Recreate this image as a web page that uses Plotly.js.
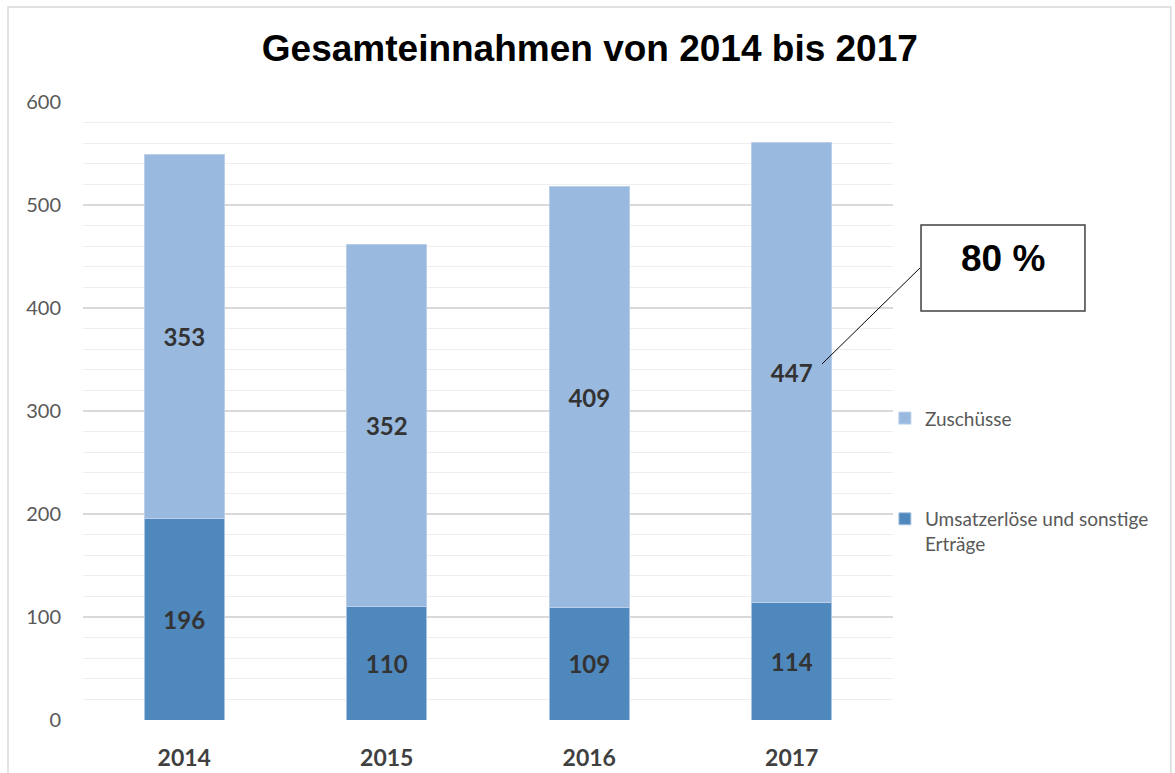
<!DOCTYPE html>
<html>
<head>
<meta charset="utf-8">
<script src="https://cdn.plot.ly/plotly-3.0.1.min.js"></script>
<style>
html,body{margin:0;padding:0;background:#fff;}
#chart{width:1175px;height:773px;}
</style>
</head>
<body>
<div id="chart"></div>
<script>
const years = ["2014", "2015", "2016", "2017"];
const umsatz = [196, 110, 109, 114];
const zuschuesse = [353, 352, 409, 447];
const seriesNames = ["Umsatzerlöse und sonstige<br>Erträge", "Zuschüsse"];
const titleText = "Gesamteinnahmen von 2014 bis 2017";
const calloutText = "80 %";

const labelFont = {family: "Lato, 'Open Sans', sans-serif", size: 24, color: "#333333", weight: "bold"};

const traces = [
  {
    type: "bar", x: years, y: umsatz, name: seriesNames[0], legendgroup: "a", legendrank: 2,
    marker: {color: "#4F88BC", line: {color: "#A9C4E4", width: 1}},
    text: umsatz.map(String), textposition: "inside", insidetextanchor: "middle",
    textangle: 0, constraintext: "none",
    textfont: labelFont, hoverinfo: "x+y+name"
  },
  {
    type: "bar", x: years, y: zuschuesse, name: seriesNames[1], legendgroup: "b", legendrank: 1,
    marker: {color: "#99B9DF", line: {color: "#B9CFEA", width: 1}},
    text: zuschuesse.map(String), textposition: "inside", insidetextanchor: "middle",
    textangle: 0, constraintext: "none",
    textfont: labelFont, hoverinfo: "x+y+name"
  }
];

const layout = {
  width: 1175, height: 773,
  margin: {l: 83, r: 282, t: 102, b: 53},
  paper_bgcolor: "#ffffff", plot_bgcolor: "#ffffff",
  barmode: "stack", bargap: 0.605,
  font: {family: "Lato, sans-serif", color: "#595959"},
  title: {
    text: "<b>" + titleText + "</b>",
    font: {family: "'Liberation Sans', Arial, sans-serif", size: 37, color: "#000000"},
    x: 0.502, xref: "container", xanchor: "center",
    y: 0.938, yref: "container", yanchor: "middle"
  },
  xaxis: {
    type: "category", showgrid: false, zeroline: false, showline: false,
    ticks: "", ticklabelstandoff: 22,
    tickfont: {family: "Lato, sans-serif", size: 23, color: "#404040", weight: "bold"}
  },
  yaxis: {
    range: [0, 600], dtick: 100, tick0: 0, showline: false, zeroline: false,
    gridcolor: "#D9D9D9", gridwidth: 1.4, ticks: "", ticklabelstandoff: 21,
    tickfont: {family: "Lato, sans-serif", size: 20, color: "#595959"},
    minor: {dtick: 20, showgrid: true, gridcolor: "#EEEEEE", gridwidth: 1.2}
  },
  showlegend: true,
  legend: {
    x: 0.99, xanchor: "left", y: 0.519, yanchor: "top", yref: "paper",
    traceorder: "grouped", tracegroupgap: 73, valign: "top",
    font: {family: "Lato, sans-serif", size: 19, color: "#595959"},
    bgcolor: "rgba(0,0,0,0)", itemclick: false
  },
  shapes: [
    {type: "rect", xref: "paper", yref: "paper", x0: -0.0926, x1: 1.3432, y0: -0.2, y1: 1.1537,
     line: {color: "#D9D9D9", width: 1.5}, fillcolor: "rgba(0,0,0,0)", layer: "below"},
    {type: "rect", xref: "paper", yref: "paper", x0: 1.0346, x1: 1.2370, y0: 0.6618, y1: 0.8010,
     line: {color: "#404040", width: 1.5}, fillcolor: "#ffffff"},
    {type: "line", xref: "paper", yref: "paper", x0: 0.9123, y0: 0.576, x1: 1.0333, y1: 0.7314,
     line: {color: "#000000", width: 1}}
  ],
  annotations: [
    {xref: "paper", yref: "paper", x: 1.1358, y: 0.7468, xanchor: "center", yanchor: "middle",
     showarrow: false, text: "<b>" + calloutText + "</b>",
     font: {family: "'Liberation Sans', Arial, sans-serif", size: 37, color: "#000000"}}
  ]
};

Plotly.newPlot("chart", traces, layout, {displayModeBar: false, staticPlot: true});
</script>
</body>
</html>
